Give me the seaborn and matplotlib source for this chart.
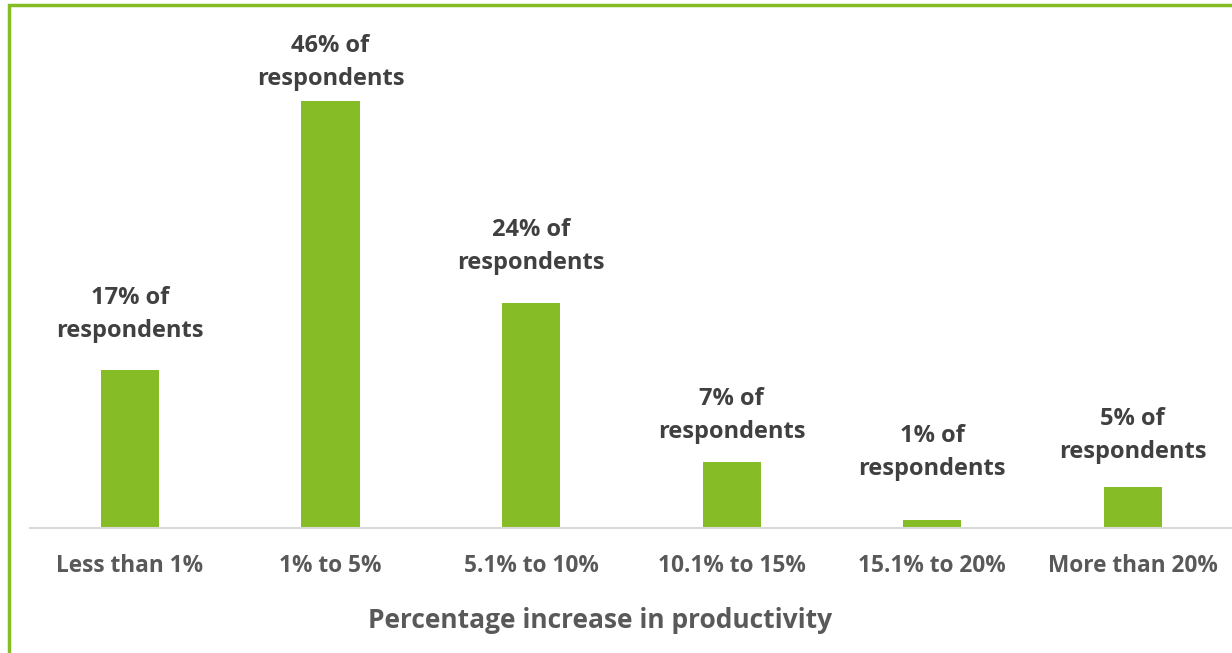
import matplotlib
matplotlib.use("Agg")
import matplotlib.pyplot as plt
import seaborn as sns
import pandas as pd
from matplotlib.patches import Rectangle

categories = ["Less than 1%", "1% to 5%", "5.1% to 10%", "10.1% to 15%", "15.1% to 20%", "More than 20%"]
values = [17, 46, 24.2, 7.1, 0.9, 4.4]
labels = ["17% of\nrespondents", "46% of\nrespondents", "24% of\nrespondents",
          "7% of\nrespondents", "1% of\nrespondents", "5% of\nrespondents"]
xlabel = "Percentage increase in productivity"

sns.set_theme(style="white")
plt.rcParams['font.family'] = ['Open Sans', 'DejaVu Sans']

df = pd.DataFrame({"cat": categories, "val": values})

W, H = 1232, 653
fig = plt.figure(figsize=(W / 100, H / 100), dpi=100)
left = 29.6 / W
right = 1233 / W
bottom = (H - 528) / H
ppu = (528 - 101) / 46.0
top_val = 50
ax_h = top_val * ppu / H
ax = fig.add_axes([left, bottom, right - left, ax_h])

sns.barplot(data=df, x="cat", y="val", color="#86BC25", width=0.29, ax=ax,
            saturation=1, edgecolor="none")
ax.set_xlim(-0.5, len(categories) - 0.5)
ax.set_ylim(0, top_val)
ax.set_yticks([])
ax.set_ylabel("")
for s in ["top", "right", "left"]:
    ax.spines[s].set_visible(False)
ax.spines["bottom"].set_color("#D9D9D9")
ax.spines["bottom"].set_linewidth(1.5)
ax.tick_params(axis="x", length=0, pad=19)
ax.set_xticks(range(len(categories)))
ax.set_xticklabels(categories, fontsize=16.3, fontweight="bold", color="#595959")
ax.set_xlabel(xlabel, fontsize=19, fontweight="bold", color="#595959")
ax_h_px = top_val * ppu
ax.xaxis.set_label_coords((600.5 - 29.6) / (1233 - 29.6), ((H - 620) - (H - 528)) / ax_h_px)
ax.xaxis.label.set_horizontalalignment("center")
ax.xaxis.label.set_verticalalignment("center")

# label offsets above bar tops (points), as placed in the original
label_offsets = [19.5, 7.3, 20.2, 13, 28, 16.6]
for i, (v, lab) in enumerate(zip(values, labels)):
    ax.annotate(lab, xy=(i, v), xytext=(0, label_offsets[i]), textcoords="offset points",
                ha="center", va="bottom", fontsize=17, fontweight="bold",
                color="#404040", linespacing=1.5, annotation_clip=False)

fig.patches.append(Rectangle((9 / W, -0.05), 1.2, (H - 5) / H + 0.05, transform=fig.transFigure,
                             fill=False, edgecolor="#86BC25", linewidth=2.5, zorder=10))

fig.savefig("out.png", dpi=100)
